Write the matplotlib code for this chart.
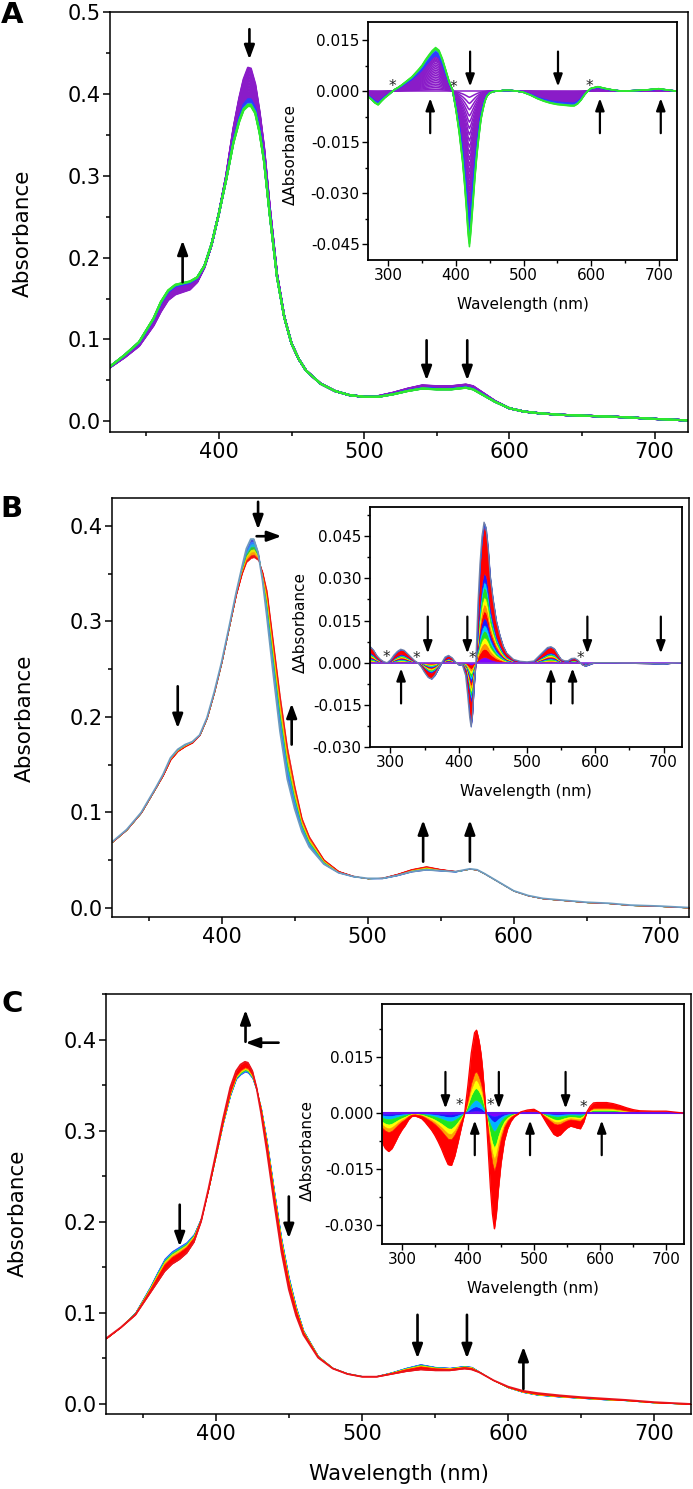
import numpy as np
import matplotlib
matplotlib.use('Agg')
import matplotlib.pyplot as plt
from matplotlib.ticker import MultipleLocator, FormatStrFormatter

plt.rcParams['font.family'] = ['DejaVu Sans']
plt.rcParams['axes.unicode_minus'] = False

# ---------------- data ----------------
main_wl = [325, 335, 345, 355, 360, 365, 370, 375, 380, 385, 390, 395, 400, 405, 410,
           414, 417, 420, 422, 425, 428, 431, 435, 440, 445, 450, 455, 460, 470, 480,
           490, 500, 510, 520, 530, 540, 550, 560, 570, 575, 580, 590, 600, 610, 620,
           635, 650, 665, 680, 700, 725]

A_start = [.066, .078, .092, .117, .134, .148, .155, .158, .161, .170, .188, .216, .254, .300, .358,
           .395, .418, .432, .431, .412, .378, .336, .262, .180, .128, .095, .076, .062, .046, .037,
           .032, .030, .031, .035, .040, .044, .043, .043, .045, .043, .037, .025, .016, .012, .010,
           .008, .007, .006, .005, .003, .001]
A_end = [.067, .081, .097, .126, .146, .160, .167, .169, .171, .176, .190, .217, .254, .295, .340,
         .366, .380, .385, .385, .376, .352, .318, .252, .176, .127, .095, .076, .062, .046, .037,
         .032, .030, .030, .033, .037, .040, .039, .039, .041, .039, .034, .024, .016, .012, .010,
         .008, .007, .006, .005, .003, .001]

B_start = [.069, .082, .100, .126, .140, .157, .166, .171, .174, .181, .199, .226, .257, .293, .330,
           .357, .376, .386, .386, .372, .343, .305, .250, .185, .135, .104, .080, .064, .046, .037,
           .033, .031, .031, .034, .038, .040, .039, .038, .041, .040, .036, .027, .018, .013, .010,
           .008, .006, .005, .003, .002, .000]
B_end = [.069, .082, .100, .126, .139, .155, .164, .169, .173, .181, .199, .226, .257, .293, .328,
         .350, .362, .366, .367, .364, .352, .332, .283, .222, .168, .128, .094, .075, .051, .039,
         .034, .031, .032, .036, .041, .044, .041, .039, .041, .040, .036, .027, .018, .013, .010,
         .008, .006, .005, .003, .002, .000]

C_start = [.072, .085, .101, .129, .145, .160, .168, .173, .178, .187, .205, .236, .272, .308, .339,
           .357, .362, .365, .364, .358, .344, .326, .290, .235, .182, .140, .107, .081, .053, .040,
           .034, .031, .031, .035, .040, .044, .041, .040, .042, .041, .036, .026, .018, .013, .010,
           .008, .0065, .005, .004, .0015, .000]
C_end = [.072, .084, .098, .122, .134, .146, .154, .159, .166, .178, .201, .236, .274, .313, .348,
         .366, .373, .376, .375, .366, .347, .320, .278, .221, .167, .126, .097, .076, .051, .039,
         .033, .030, .030, .033, .036, .038, .037, .037, .039, .038, .035, .026, .019, .0145, .012,
         .0095, .0075, .006, .0045, .002, .000]

inset_wl = [270, 275, 280, 285, 290, 295, 300, 305, 310, 315, 320, 325, 330, 335, 340, 345, 350,
            355, 360, 365, 370, 375, 380, 385, 390, 395, 400, 405, 410, 413, 416, 418, 420, 422,
            425, 428, 431, 434, 437, 440, 443, 446, 450, 455, 460, 465, 470, 480, 490, 500, 510,
            520, 530, 535, 540, 545, 550, 555, 560, 565, 570, 575, 580, 585, 590, 595, 600, 610,
            620, 630, 640, 650, 660, 680, 700, 710, 725]

A_diff = [-.0017, -.0025, -.0035, -.0041, -.0030, -.0020, -.0012, -.0003, .0005, .0011, .0018, .0026,
          .0034, .0042, .0053, .0064, .0076, .0092, .0106, .0119, .0128, .0120, .0095, .0062, .0028,
          .0003, -.0055, -.0125, -.0212, -.0280, -.0360, -.0420, -.0458, -.0420, -.0340, -.0260,
          -.0190, -.0135, -.0085, -.0055, -.0030, -.0015, -.0006, -.0002, 0, 0, .0002, .0002, 0,
          -.0004, -.0012, -.0022, -.0030, -.0033, -.0036, -.0038, -.0040, -.0041, -.0042, -.0043,
          -.0044, -.0044, -.0038, -.0027, -.0012, 0, .0008, .0013, .0008, .0004, .0001, 0, .0001,
          .0003, .0007, .0004, 0]
B_diff = [.0058, .0045, .0025, .0012, .0004, 0, .0010, .0027, .0040, .0048, .0044, .0032, .0020,
          .0008, 0, -.0015, -.0035, -.0052, -.0058, -.0045, -.0022, 0, .0020, .0026, .0018, .0003,
          -.0008, -.0006, -.0045, -.0115, -.0195, -.0228, -.0185, -.0100, 0, .0206, .0350, .0450,
          .0500, .0480, .0410, .0310, .0230, .0150, .0100, .0060, .0035, .0012, .0005, .0003, .0006,
          .0030, .0054, .0057, .0050, .0030, .0012, .0007, .0007, .0015, .0016, .0008, -.0006,
          -.0012, -.0008, -.0003, 0, 0, 0, 0, -.0001, -.0001, -.0002, -.0003, -.0005, -.0002, 0]
C_diff = [-.0078, -.0095, -.0103, -.0095, -.0078, -.0060, -.0045, -.0033, -.0018, -.0009, -.0008,
          -.0011, -.0015, -.0024, -.0035, -.0046, -.0060, -.0077, -.0096, -.0118, -.0138, -.0140,
          -.0115, -.0078, -.0038, 0, .0075, .0160, .0215, .0222, .0200, .0180, .0155, .0120, .0055,
          -.0020, -.0110, -.0200, -.0270, -.0310, -.0270, -.0205, -.0135, -.0075, -.0042, -.0022,
          -.0010, .0003, .0008, .0010, 0, -.0030, -.0057, -.0062, -.0058, -.0048, -.0040, -.0035,
          -.0037, -.0040, -.0042, -.0025, .0003, .0018, .0027, .0028, .0028, .0028, .0025, .0020,
          .0014, .0009, .0006, .0005, .0005, .0003, 0]

# progression of the titration (fraction of the total change for each recorded spectrum)
A_steps = [0.00, 0.04, 0.08, 0.12, 0.16, 0.20, 0.24, 0.28, 0.32, 0.36, 0.40, 0.44, 0.48, 0.52,
           0.56, 0.60, 0.64, 0.68, 0.71, 0.74, 0.77, 0.80, 0.82, 0.84, 0.86, 0.88, 0.90, 0.92,
           0.94, 0.96, 0.98, 1.00]
A_colors = ['#8a1cc8'] * 22 + ['#2f3cff'] * 6 + ['#1e90ff'] + ['#2ee82e'] * 3

B_main_steps = [0.0, 0.14, 0.28, 0.42, 0.56, 0.70, 0.85, 1.0]
B_main_colors = ['#4b4bd8', '#2f7bff', '#18b8d8', '#33c233', '#e6e600', '#ff9a00', '#f01010']
B_ins_steps = [0.0, 0.04, 0.10, 0.14, 0.18, 0.23, 0.27, 0.32, 0.37, 0.42, 0.47, 0.54, 0.58,
               0.64, 0.97, 1.0]
B_ins_colors = ['#8000ff', '#ff0000', '#ff9000', '#ffff00', '#22e022', '#00c8ff', '#1a1aff',
                '#ff0000', '#ff9000', '#ffff00', '#22e022', '#00c8ff', '#1a1aff', '#ff0000',
                '#3050e0']

C_main_steps = [0.0, 0.08, 0.16, 0.26, 0.36, 0.46, 1.0]
C_main_colors = ['#2a3cff', '#10b0f0', '#30d030', '#f0f000', '#ff9900', '#ff0000']
C_ins_steps = [0.0, 0.03, 0.08, 0.16, 0.30, 0.40, 0.50, 1.0]
C_ins_colors = ['#7f00ff', '#1a1aff', '#00b4ff', '#1ee61e', '#ffff00', '#ffa000', '#ff0000']

# annotations (arrows: x, tail, head ; horizontal: tail x, head x, y)
A_main_arrows = [(375, 0.170, 0.221), (421, 0.479, 0.442), (543, 0.099, 0.050), (571, 0.099, 0.050)]
A_ins_arrows = [(362, -0.0124, -0.0021), (421, 0.0116, 0.0013), (551, 0.0116, 0.0013),
                (613, -0.0124, -0.0021), (703, -0.0124, -0.0021)]
A_stars = [(306, 0.0013), (396.5, 0.0011), (597, 0.0013)]

B_main_arrows = [(370, 0.232, 0.188), (425, 0.425, 0.396), (448, 0.171, 0.214),
                 (538, 0.0485, 0.092), (570, 0.0485, 0.092)]
B_main_harrows = [(424, 441, 0.389)]
B_ins_arrows = [(354.6, .0164, .0033), (412.6, .0164, .0033), (588.4, .0164, .0033), (696, .0164, .0033),
                (315.5, -.0145, -.002), (535, -.0145, -.002), (566.7, -.0145, -.002)]
B_stars = [(293.7, .0018), (338.6, .0016), (419.8, .0016), (577.8, .0016)]

C_main_arrows = [(420.4, 0.398, 0.433), (375.4, 0.219, 0.173), (450, 0.228, 0.182),
                 (538, 0.098, 0.050), (571.8, 0.098, 0.050), (610.4, 0.0165, 0.063)]
C_main_harrows = [(443, 420.4, 0.397)]
C_ins_arrows = [(366, .011, .0012), (446.8, .011, .0012), (547.8, .011, .0012),
                (410.4, -.0113, -.002), (494, -.0113, -.002), (602.5, -.0113, -.002)]
C_stars = [(387, .0019), (434, .0020), (574.6, .0016)]

# ---------------- figure ----------------
W, H = 693, 1489
fig = plt.figure(figsize=(W / 100, H / 100), dpi=100)


def rect(l, r, t, b):
    return [l / W, 1 - b / H, (r - l) / W, (b - t) / H]


def style_main(ax, xlim, ylim, ylabel_y):
    ax.set_xlim(*xlim)
    ax.set_ylim(*ylim)
    for s in ax.spines.values():
        s.set_linewidth(1.1)
    ax.xaxis.set_major_locator(MultipleLocator(100))
    ax.xaxis.set_minor_locator(MultipleLocator(50))
    ax.yaxis.set_major_locator(MultipleLocator(0.1))
    ax.yaxis.set_minor_locator(MultipleLocator(0.05))
    ax.yaxis.set_major_formatter(FormatStrFormatter('%.1f'))
    ax.tick_params(which='both', direction='out', top=False, right=False, width=1.1)
    ax.tick_params(which='major', length=5, labelsize=15)
    ax.tick_params(which='minor', length=3)
    ax.tick_params(axis='y', which='major', pad=1.5)
    ax.tick_params(axis='x', which='major', pad=2.5)
    ax.set_ylabel('Absorbance', fontsize=15.5)
    ax.yaxis.set_label_coords(-0.133, ylabel_y)


def style_inset(ax, ylim, yl_x, yl_y):
    ax.set_xlim(270, 727)
    ax.set_ylim(*ylim)
    ax.set_facecolor('white')
    for s in ax.spines.values():
        s.set_linewidth(1.3)
    ax.xaxis.set_major_locator(MultipleLocator(100))
    ax.xaxis.set_minor_locator(MultipleLocator(50))
    ax.yaxis.set_major_locator(MultipleLocator(0.015))
    ax.yaxis.set_minor_locator(MultipleLocator(0.0075))
    ax.yaxis.set_major_formatter(FormatStrFormatter('%.3f'))
    ax.tick_params(which='both', direction='out', top=False, right=False, width=1.0)
    ax.tick_params(which='major', length=4, labelsize=11, pad=2)
    ax.tick_params(which='minor', length=2.5)
    ax.set_xlabel('Wavelength (nm)', fontsize=11)
    ax.xaxis.set_label_coords(0.5, -0.155)
    ax.set_ylabel('\u0394Absorbance', fontsize=11)
    ax.yaxis.set_label_coords(yl_x, yl_y)


def varrow(ax, x, y0, y1, lw=1.9, ms=14):
    ax.annotate('', xy=(x, y1), xytext=(x, y0),
                arrowprops=dict(arrowstyle='-|>,head_length=0.6,head_width=0.22', lw=lw,
                                color='black', shrinkA=0, shrinkB=0, mutation_scale=ms),
                zorder=10)


def harrow(ax, x0, x1, y, lw=1.9, ms=14):
    ax.annotate('', xy=(x1, y), xytext=(x0, y),
                arrowprops=dict(arrowstyle='-|>,head_length=0.6,head_width=0.22', lw=lw,
                                color='black', shrinkA=0, shrinkB=0, mutation_scale=ms),
                zorder=10)


def stars(ax, pts):
    for x, y in pts:
        ax.text(x, y, '*', fontsize=11, ha='center', va='center', color='#222222', zorder=11)


def bands(ax, wl, lo, hi, steps, colors):
    wl = np.asarray(wl)
    lo = np.asarray(lo)
    hi = np.asarray(hi)
    for k, c in enumerate(colors):
        y0 = lo + steps[k] * (hi - lo)
        y1 = lo + steps[k + 1] * (hi - lo)
        ax.fill_between(wl, y0, y1, color=c, lw=0.4, edgecolor=c)


wl_m = np.asarray(main_wl)
wl_i = np.asarray(inset_wl)

# ---------------- panel A ----------------
axA = fig.add_axes(rect(110, 688, 12, 432))
style_main(axA, (325, 723), (-0.013, 0.5), 0.474)
a0 = np.asarray(A_start)
a1 = np.asarray(A_end)
for f, c in zip(A_steps, A_colors):
    axA.plot(wl_m, a0 + f * (a1 - a0), color=c, lw=1.5, solid_joinstyle='round')
for x, y0, y1 in A_main_arrows:
    varrow(axA, x, y0, y1)

axAi = fig.add_axes(rect(368, 677, 22, 260))
axAi.set_zorder(5)
style_inset(axAi, (-0.0497, 0.0203), -0.227, 0.445)
dA = np.asarray(A_diff)
for f, c in zip(A_steps, A_colors):
    axAi.plot(wl_i, f * dA, color=c, lw=1.1, solid_joinstyle='round')
for x, y0, y1 in A_ins_arrows:
    varrow(axAi, x, y0, y1, lw=1.6, ms=12)
stars(axAi, A_stars)

# ---------------- panel B ----------------
axB = fig.add_axes(rect(112, 689, 498, 917))
style_main(axB, (325, 720), (-0.0094, 0.429), 0.475)
bands(axB, wl_m, B_start, B_end, B_main_steps, B_main_colors)
axB.plot(wl_m, B_start, color='#6c9bbf', lw=1.3)
for x, y0, y1 in B_main_arrows:
    varrow(axB, x, y0, y1)
for x0, x1, y in B_main_harrows:
    harrow(axB, x0, x1, y)

axBi = fig.add_axes(rect(370, 682, 507, 747))
axBi.set_zorder(5)
style_inset(axBi, (-0.030, 0.0554), -0.20, 0.517)
zero_i = np.zeros(len(inset_wl))
bands(axBi, wl_i, zero_i, B_diff, B_ins_steps, B_ins_colors)
axBi.plot(wl_i, zero_i, color='#7f30e0', lw=1.2)
axBi.plot(wl_i, B_diff, color='#7080a8', lw=0.9)
for x, y0, y1 in B_ins_arrows:
    varrow(axBi, x, y0, y1, lw=1.6, ms=12)
stars(axBi, B_stars)

# ---------------- panel C ----------------
axC = fig.add_axes(rect(106, 691, 994, 1414))
style_main(axC, (325, 725), (-0.011, 0.4505), 0.479)
bands(axC, wl_m, C_start, C_end, C_main_steps, C_main_colors)
axC.plot(wl_m, C_end, color='#e8141c', lw=1.3)
axC.set_xlabel('Wavelength (nm)', fontsize=15)
axC.xaxis.set_label_coords(0.5, -0.118)
for x, y0, y1 in C_main_arrows:
    varrow(axC, x, y0, y1)
for x0, x1, y in C_main_harrows:
    harrow(axC, x0, x1, y)

axCi = fig.add_axes(rect(382, 684, 1004, 1244))
axCi.set_zorder(5)
style_inset(axCi, (-0.0351, 0.0292), -0.222, 0.39)
bands(axCi, wl_i, zero_i, C_diff, C_ins_steps, C_ins_colors)
axCi.plot(wl_i, zero_i, color='#6a10f0', lw=1.5)
axCi.plot(wl_i, C_diff, color='#ff0000', lw=0.9)
for x, y0, y1 in C_ins_arrows:
    varrow(axCi, x, y0, y1, lw=1.6, ms=12)
stars(axCi, C_stars)

# panel letters
for lab, (x, y) in zip(['A', 'B', 'C'], [(12, 15), (11, 509), (12, 1004)]):
    fig.text(x / W, 1 - y / H, lab, fontsize=21, fontweight='bold', ha='center', va='center')

fig.savefig('out.png', dpi=100)
